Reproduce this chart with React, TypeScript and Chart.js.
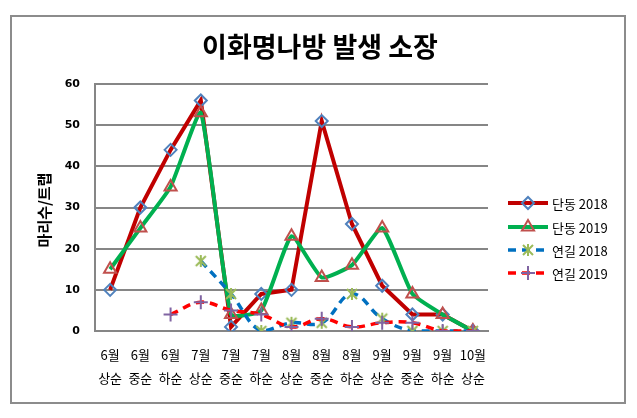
import React, { useEffect, useRef } from "react";
import { Chart, registerables } from "chart.js";
import { drawPoint } from "chart.js/helpers";

Chart.register(...registerables);

const TITLE = "이화명나방 발생 소장";
const Y_TITLE = "마리수/트랩";
const CATEGORIES: string[][] = [
  ["6월", "상순"], ["6월", "중순"], ["6월", "하순"],
  ["7월", "상순"], ["7월", "중순"], ["7월", "하순"],
  ["8월", "상순"], ["8월", "중순"], ["8월", "하순"],
  ["9월", "상순"], ["9월", "중순"], ["9월", "하순"],
  ["10월", "상순"],
];
const DANDONG_2018 = [10, 30, 44, 56, 1, 9, 10, 51, 26, 11, 4, 4, 0];
const DANDONG_2019 = [15, 25, 35, 53, 4, 5, 23, 13, 16, 25, 9, 4, 0];
const YANJI_2018 = [null, null, null, 17, 9, 0, 2, 2, 9, 3, 0, 0, 0];
const YANJI_2019 = [null, null, 4, 7, 5, 4, 1, 3, 1, 2, 2, 0, 0];
const Y_TICKS = [0, 10, 20, 30, 40, 50, 60];

const KR = '"Noto Sans CJK KR", "Noto Sans", sans-serif';

function makeStar(color: string): HTMLCanvasElement {
  const c = document.createElement("canvas");
  c.width = 14;
  c.height = 14;
  const g = c.getContext("2d")!;
  g.strokeStyle = color;
  g.lineWidth = 2;
  g.beginPath();
  g.moveTo(2, 2); g.lineTo(12, 12);
  g.moveTo(12, 2); g.lineTo(2, 12);
  g.moveTo(7, 1); g.lineTo(7, 13);
  g.stroke();
  return c;
}

export default function App() {
  const ref = useRef<HTMLCanvasElement | null>(null);

  useEffect(() => {
    document.body.style.margin = "0";
    const canvas = ref.current;
    if (!canvas) return;
    const star = makeStar("#9BBB59");

    const datasets: any[] = [
      {
        label: "단동 2018",
        data: DANDONG_2018,
        borderColor: "#C00000",
        borderWidth: 4,
        pointStyle: "rectRot",
        pointRadius: 6,
        pointBorderColor: "#4F81BD",
        pointBorderWidth: 2,
        pointBackgroundColor: "rgba(0,0,0,0)",
        tension: 0,
        order: 4,
      },
      {
        label: "단동 2019",
        data: DANDONG_2019,
        borderColor: "#00B050",
        borderWidth: 4,
        pointStyle: "triangle",
        pointRadius: 7,
        pointBorderColor: "#C0504D",
        pointBorderWidth: 2,
        pointBackgroundColor: "rgba(0,0,0,0)",
        tension: 0.15,
        order: 3,
      },
      {
        label: "연길 2018",
        data: YANJI_2018,
        borderColor: "#0070C0",
        borderWidth: 3.5,
        borderDash: [8, 6],
        pointStyle: star,
        pointRadius: 7,
        pointBorderColor: "#9BBB59",
        pointBorderWidth: 2,
        pointBackgroundColor: "rgba(0,0,0,0)",
        tension: 0.4,
        order: 2,
      },
      {
        label: "연길 2019",
        data: YANJI_2019,
        borderColor: "#FF0000",
        borderWidth: 3.5,
        borderDash: [8, 6],
        pointStyle: "cross",
        pointRadius: 7,
        pointBorderColor: "#8064A2",
        pointBorderWidth: 2,
        pointBackgroundColor: "rgba(0,0,0,0)",
        tension: 0.4,
        order: 1,
      },
    ];

    const decor = {
      id: "decor",
      afterDraw(chart: any) {
        const ctx = chart.ctx as CanvasRenderingContext2D;
        ctx.save();
        ctx.strokeStyle = "#8c8c8c";
        ctx.lineWidth = 2;
        ctx.strokeRect(11, 16, 614, 387);
        ctx.fillStyle = "#000";
        ctx.font = `bold 27px ${KR}`;
        ctx.textAlign = "center";
        ctx.textBaseline = "middle";
        ctx.fillText(TITLE, 320, 47);
        ctx.save();
        ctx.translate(44, 210);
        ctx.rotate(-Math.PI / 2);
        ctx.font = `bold 15px ${KR}`;
        ctx.fillText(Y_TITLE, 0, 0);
        ctx.restore();
        const rows = [203, 227, 250, 273];
        datasets.forEach((ds, i) => {
          const y = rows[i];
          ctx.save();
          ctx.strokeStyle = ds.borderColor;
          ctx.lineWidth = ds.borderWidth;
          ctx.setLineDash(ds.borderDash || []);
          ctx.beginPath();
          ctx.moveTo(508, y);
          ctx.lineTo(548, y);
          ctx.stroke();
          ctx.setLineDash([]);
          ctx.strokeStyle = ds.pointBorderColor;
          ctx.fillStyle = "rgba(0,0,0,0)";
          ctx.lineWidth = ds.pointBorderWidth;
          drawPoint(ctx, {
            pointStyle: ds.pointStyle,
            radius: ds.pointRadius,
            rotation: 0,
            borderWidth: ds.pointBorderWidth,
          } as any, 528, y);
          ctx.restore();
          ctx.fillStyle = "#000";
          ctx.font = `13px ${KR}`;
          ctx.textAlign = "left";
          ctx.textBaseline = "middle";
          ctx.fillText(ds.label, 552, y + 1);
        });
        ctx.restore();
      },
    };

    const chart = new Chart(canvas, {
      type: "line",
      data: { labels: CATEGORIES as any, datasets },
      options: {
        animation: false,
        responsive: false,
        maintainAspectRatio: false,
        layout: { padding: { left: 0, top: 84, right: 149, bottom: 27 } },
        plugins: {
          legend: { display: false },
          tooltip: { enabled: false },
          title: { display: false },
        },
        scales: {
          x: {
            type: "category",
            offset: true,
            grid: { display: false, drawTicks: false },
            border: { display: true, color: "#868686", width: 2 },
            ticks: {
              color: "#000",
              font: { family: KR, size: 13, lineHeight: 1.77 },
              padding: 13,
              maxRotation: 0,
              autoSkip: false,
            },
            afterFit: (s: any) => { s.height = 60; },
          },
          y: {
            min: 0,
            max: 60,
            afterBuildTicks: (s: any) => { s.ticks = Y_TICKS.map((v) => ({ value: v })); },
            grid: { color: "#868686", lineWidth: 2, drawTicks: false },
            border: { display: true, color: "#868686", width: 2 },
            ticks: {
              color: "#000",
              font: { family: '"DejaVu Sans", sans-serif', size: 11, weight: "bold" },
              padding: 15,
            },
            afterFit: (s: any) => { s.width = 95; },
          },
        },
      } as any,
      plugins: [decor],
    });
    return () => chart.destroy();
  }, []);

  return (
    <div style={{ width: 637, height: 418, background: "#fff" }}>
      <canvas ref={ref} width={637} height={418} style={{ display: "block" }} />
    </div>
  );
}
